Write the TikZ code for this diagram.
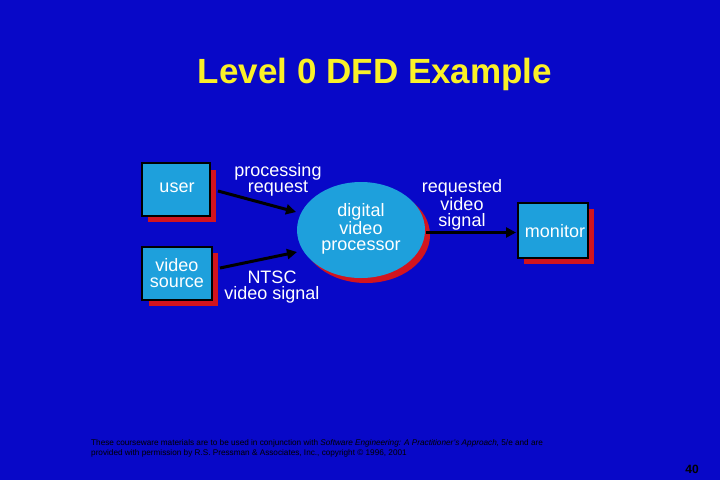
\documentclass[tikz,border=0pt]{standalone}
\usepackage{fontspec}
\setmainfont{Liberation Sans}
\usetikzlibrary{shapes.geometric,arrows.meta}
\definecolor{bg}{RGB}{8,8,200}
\definecolor{boxc}{RGB}{30,160,220}
\definecolor{shad}{RGB}{210,20,30}
\begin{document}
\begin{tikzpicture}[x=1pt,y=-1pt,
  lbl/.style={text=white,font=\fontsize{18}{16.5}\selectfont,align=center,inner sep=0pt},
  ent/.style={fill=boxc,draw=black,line width=1.2pt,minimum width=68pt,minimum height=54pt,inner sep=0pt},
  flow/.style={line width=3pt,-{Triangle[length=10pt,width=10pt]}}]
\fill[bg] (0,0) rectangle (720,480);
\useasboundingbox (0,0) rectangle (720,480);
\node[text={rgb,255:red,250;green,240;blue,40},font=\bfseries\fontsize{35}{35}\selectfont] (title) at (375,74) {Level 0 DFD Example};
% shadows
\fill[shad] (148,170) rectangle (216,222);
\fill[shad] (149,253) rectangle (218,306);
\fill[shad] (524,209) rectangle (594,264);
\fill[shad] (366,235) ellipse [x radius=64, y radius=48];
\node[ent,minimum width=68pt,minimum height=53pt] (user) at (176,189.5) {};
\node[lbl] at (177,188) {user};
\node[ent,minimum width=70pt,minimum height=53pt] (src) at (177,273.5) {};
\node[lbl] at (177,273) {video\\source};
\node[ent,minimum width=70pt,minimum height=55pt] (mon) at (553,230.5) {};
\node[lbl] at (555,231) {monitor};
\node[ellipse,fill=boxc,minimum width=128pt,minimum height=96pt,inner sep=0pt] (proc) at (361,230) {};
\node[lbl] at (361,229) {digital\\video\\processor};
\draw[flow] (218,191) -- (296,212);
\draw[flow] (220,268) -- (297,252);
\draw[flow] (426,232.5) -- (516,232.5);
\node[lbl] (l1) at (278,180) {processing\\request};
\node[lbl] (l2) at (272,287) {NTSC\\video signal};
\node[lbl] (l3) at (462,205) {requested\\video\\signal};
\node[anchor=north west,align=left,font=\fontsize{8.2}{10}\selectfont,inner sep=0pt] (foot) at (91,439) {These courseware materials are to be used in conjunction with \textit{Software Engineering: A Practitioner's Approach,} 5/e and are\\provided with permission by R.S. Pressman \& Associates, Inc., copyright © 1996, 2001};
\node[font=\bfseries\fontsize{12}{12}\selectfont] (pg) at (692,469) {40};
\end{tikzpicture}
\end{document}
